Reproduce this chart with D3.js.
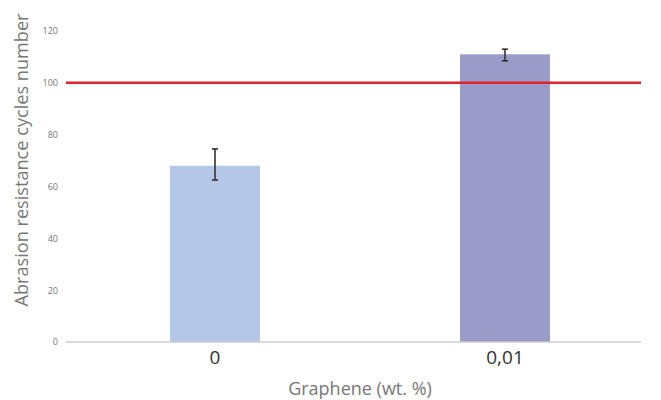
<!DOCTYPE html>
<html><head><meta charset="utf-8">
<script src="https://cdn.jsdelivr.net/npm/d3@7"></script>
<style>body{margin:0;background:#fff}svg{display:block}</style>
</head><body>
<svg id="c" width="661" height="400"></svg>
<script>
const categories = ["0", "0,01"];
const values = [68, 111];
const errLow = [62.5, 108.5];
const errHigh = [74.5, 113];
const colors = ["#b4c7e7", "#9a9bc9"];
const yTicks = [0, 20, 40, 60, 80, 100, 120];
const refValue = 100;
const yTitle = "Abrasion resistance cycles number";
const xTitle = "Graphene (wt. %)";

const svg = d3.select("#c");
const x = d3.scaleBand().domain(categories).range([70, 650]).paddingInner(0.69).paddingOuter(0.345);
const y = d3.scaleLinear().domain([0, 120]).range([342, 31]);

// bars
svg.selectAll("rect.bar").data(categories).join("rect")
  .attr("x", d => x(d)).attr("width", x.bandwidth())
  .attr("y", (d,i) => y(values[i])).attr("height", (d,i) => y(0) - y(values[i]))
  .attr("fill", (d,i) => colors[i]);

// error bars
const eg = svg.append("g").attr("stroke", "#333").attr("stroke-width", 1.6);
categories.forEach((d,i) => {
  const cx = x(d) + x.bandwidth()/2;
  eg.append("line").attr("x1", cx).attr("x2", cx).attr("y1", y(errLow[i])).attr("y2", y(errHigh[i]));
  eg.append("line").attr("x1", cx-3).attr("x2", cx+3).attr("y1", y(errLow[i])).attr("y2", y(errLow[i]));
  eg.append("line").attr("x1", cx-3).attr("x2", cx+3).attr("y1", y(errHigh[i])).attr("y2", y(errHigh[i]));
});

// baseline
svg.append("line").attr("x1", 66).attr("x2", 641).attr("y1", y(0)).attr("y2", y(0))
  .attr("stroke", "#c8ccd2").attr("stroke-width", 1.5);

// reference line
svg.append("line").attr("x1", 66).attr("x2", 641).attr("y1", y(refValue)).attr("y2", y(refValue))
  .attr("stroke", "#e0262c").attr("stroke-width", 2.5);

// y axis labels
const yAxis = d3.axisLeft(y).tickValues(yTicks).tickSize(0).tickPadding(0);
const ga = svg.append("g").attr("transform", "translate(58,0)").call(yAxis);
ga.select(".domain").remove();
ga.selectAll("text").attr("font-family", "Open Sans, sans-serif").attr("font-size", 9).attr("fill", "#777");

// x axis labels
const xAxis = d3.axisBottom(x).tickSize(0).tickPadding(0);
const gx = svg.append("g").attr("transform", "translate(0,350)").call(xAxis);
gx.select(".domain").remove();
gx.selectAll("text").attr("font-family", "Open Sans, sans-serif").attr("font-size", 19).attr("fill", "#333");

// titles
svg.append("text").attr("x", 360).attr("y", 395).attr("text-anchor", "middle")
  .attr("font-family", "Open Sans, sans-serif").attr("font-size", 18).attr("fill", "#777").text(xTitle);
svg.append("text").attr("transform", "translate(28,160) rotate(-90)").attr("text-anchor", "middle")
  .attr("font-family", "Open Sans, sans-serif").attr("font-size", 18)
  .attr("textLength", 293).attr("lengthAdjust", "spacingAndGlyphs")
  .attr("fill", "#777").text(yTitle);
</script>
</body></html>
